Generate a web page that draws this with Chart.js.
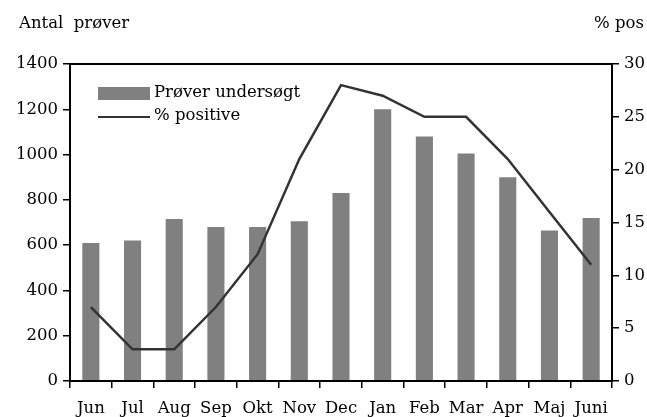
<!DOCTYPE html>
<html>
<head>
<meta charset="utf-8">
<script src="https://cdn.jsdelivr.net/npm/chart.js@4/dist/chart.umd.min.js"></script>
<style>
  html, body { margin: 0; padding: 0; background: #fff; }
  #wrap { width: 647px; height: 417px; }
</style>
</head>
<body>
<div id="wrap"><canvas id="myChart" width="647" height="417"></canvas></div>
<script>
const months = ['Jun', 'Jul', 'Aug', 'Sep', 'Okt', 'Nov', 'Dec', 'Jan', 'Feb', 'Mar', 'Apr', 'Maj', 'Juni'];
const samples = [610, 620, 715, 680, 680, 705, 830, 1200, 1080, 1005, 900, 665, 720];
const pctPositive = [7, 3, 3, 7, 12, 21, 28, 27, 25, 25, 21, 16, 11];
const leftTitle = 'Antal  prøver';
const rightTitle = '% pos';
const barLabel = 'Prøver undersøgt';
const lineLabel = '% positive';

const fontFamily = '"DejaVu Serif", serif';
const barColor = '#808080';
const lineColor = '#333333';

// frame, titles and legend drawn on top of the chart
const extras = {
    id: 'extras',
    afterDraw(chart) {
        const ctx = chart.ctx;
        const a = chart.chartArea;
        ctx.save();
        ctx.strokeStyle = '#000';
        ctx.lineWidth = 2;
        ctx.strokeRect(a.left, a.top, a.right - a.left, a.bottom - a.top);

        ctx.fillStyle = '#000';
        ctx.font = '16.5px ' + fontFamily;
        ctx.textBaseline = 'middle';
        ctx.textAlign = 'left';
        ctx.fillText(leftTitle, 19, 24);
        ctx.textAlign = 'right';
        ctx.fillText(rightTitle, 644, 24);

        // legend
        ctx.textAlign = 'left';
        ctx.fillStyle = barColor;
        ctx.fillRect(98, 87, 52, 13);
        ctx.strokeStyle = lineColor;
        ctx.lineWidth = 2;
        ctx.beginPath();
        ctx.moveTo(98, 117);
        ctx.lineTo(150, 117);
        ctx.stroke();
        ctx.fillStyle = '#000';
        ctx.fillText(barLabel, 154, 93);
        ctx.fillText(lineLabel, 154, 116);
        ctx.restore();
    }
};

const plainNumber = v => String(v);

const ctx = document.getElementById('myChart').getContext('2d');
new Chart(ctx, {
    data: {
        labels: months,
        datasets: [
            {
                type: 'line',
                label: lineLabel,
                data: pctPositive,
                yAxisID: 'y1',
                borderColor: lineColor,
                borderWidth: 2.5,
                pointRadius: 0,
                tension: 0,
                order: 0
            },
            {
                type: 'bar',
                label: barLabel,
                data: samples,
                yAxisID: 'y',
                backgroundColor: barColor,
                barPercentage: 0.41,
                categoryPercentage: 1,
                order: 1
            }
        ]
    },
    options: {
        responsive: false,
        animation: false,
        layout: { padding: { top: 64, right: 0, left: 0, bottom: 0 } },
        plugins: {
            legend: { display: false },
            tooltip: { enabled: false }
        },
        scales: {
            x: {
                offset: true,
                grid: { offset: true, drawOnChartArea: false, tickLength: 7, color: '#000', lineWidth: 1.5 },
                border: { color: '#000', width: 2 },
                ticks: { color: '#000', font: { family: fontFamily, size: 16.5 }, maxRotation: 0, autoSkip: false, padding: 11 },
                afterFit(scale) { scale.height = 36; }
            },
            y: {
                position: 'left',
                min: 0,
                max: 1400,
                ticks: { stepSize: 200, color: '#000', font: { family: fontFamily, size: 16.5 }, padding: 5, callback: plainNumber },
                grid: { drawOnChartArea: false, tickLength: 7, color: '#000', lineWidth: 1.5 },
                border: { color: '#000', width: 2 },
                afterFit(scale) { scale.width = 70; }
            },
            y1: {
                position: 'right',
                min: 0,
                max: 30,
                ticks: { stepSize: 5, color: '#000', font: { family: fontFamily, size: 16.5 }, padding: 5, callback: plainNumber },
                grid: { drawOnChartArea: false, tickLength: 7, color: '#000', lineWidth: 1.5 },
                border: { color: '#000', width: 2 },
                afterFit(scale) { scale.width = 35; }
            }
        }
    },
    plugins: [extras]
});
</script>
</body>
</html>
